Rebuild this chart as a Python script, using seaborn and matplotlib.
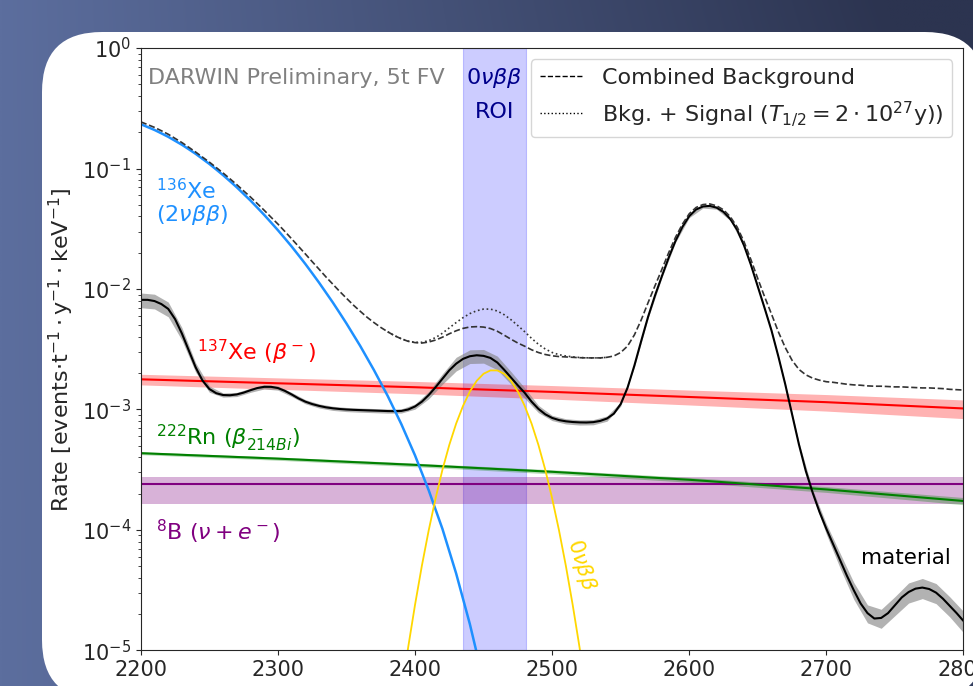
import numpy as np
import seaborn as sns
import matplotlib.pyplot as plt
from matplotlib.patches import FancyBboxPatch
from matplotlib.lines import Line2D


# energy grid of the spectra [keV], 5 keV steps
energy = np.arange(2200, 2801, 5)

# detector materials (214Bi / 208Tl gamma lines), log10 of the rate
material_log10 = np.array([
    -2.09, -2.09, -2.10, -2.125, -2.165, -2.25, -2.37, -2.51, -2.65, -2.76,
    -2.83, -2.865, -2.88, -2.882, -2.875, -2.86, -2.84, -2.822, -2.812, -2.812,
    -2.822, -2.845, -2.875, -2.908, -2.935, -2.955, -2.97, -2.982, -2.99, -2.996,
    -3.0, -3.003, -3.005, -3.007, -3.009, -3.011, -3.013, -3.014, -3.012, -3.0,
    -2.975, -2.935, -2.88, -2.815, -2.745, -2.675, -2.62, -2.58, -2.558, -2.55,
    -2.555, -2.572, -2.61, -2.67, -2.735, -2.80, -2.862, -2.935, -2.995, -3.04,
    -3.07, -3.088, -3.098, -3.104, -3.107, -3.108, -3.105, -3.095, -3.075, -3.035,
    -2.955, -2.82, -2.635, -2.43, -2.23, -2.055, -1.895, -1.74, -1.60, -1.485,
    -1.395, -1.34, -1.315, -1.31, -1.325, -1.36, -1.42, -1.51, -1.64, -1.80,
    -1.98, -2.16, -2.345, -2.56, -2.79, -3.04, -3.29, -3.51, -3.69, -3.85,
    -3.99, -4.12, -4.25, -4.38, -4.50, -4.61, -4.69, -4.735, -4.73, -4.69,
    -4.625, -4.56, -4.515, -4.487, -4.478, -4.49, -4.52, -4.57, -4.63, -4.69,
    -4.755])
# relative uncertainty of the material curve, every 10 keV
material_err = np.array([
    .14, .14, .14, .12, .09, .06, .04, .04, .04, .04,
    .04, .04, .04, .04, .04, .04, .04, .04, .04, .04,
    .05, .07, .10, .13, .13, .13, .13, .12, .10, .07,
    .05, .05, .05, .05, .05, .04, .03, .03, .03, .03,
    .03, .03, .03, .03, .03, .03, .03, .03, .04, .06,
    .10, .14, .16, .17, .18, .18, .19, .19, .19, .19,
    .20])

# combined background (dashed)
combined = np.array([
    0.2439, 0.2314, 0.2193, 0.2058, 0.1925, 0.1778, 0.1641, 0.1500, 0.1370, 0.1243,
    0.1130, 0.1019, 0.0918, 0.0822, 0.0735, 0.0652, 0.0580, 0.0511, 0.0450, 0.0394,
    0.0346, 0.0301, 0.0261, 0.0226, 0.01955, 0.01687, 0.0146, 0.01261, 0.01098, 0.00956,
    0.00838, 0.00736, 0.00654, 0.00583, 0.00527, 0.0048, 0.00442, 0.0041, 0.00386, 0.00368,
    0.00359, 0.00356, 0.00363, 0.00377, 0.00398, 0.00425, 0.0045, 0.00471, 0.00484, 0.00487,
    0.00483, 0.0047, 0.00446, 0.00414, 0.00383, 0.00356, 0.00335, 0.00313, 0.00297, 0.00286,
    0.00279, 0.00275, 0.00273, 0.00271, 0.00269, 0.00268, 0.00268, 0.00268, 0.00271, 0.00278,
    0.00297, 0.00336, 0.00416, 0.00555, 0.00771, 0.01062, 0.01451, 0.0200, 0.0269, 0.0345,
    0.0421, 0.0475, 0.0502, 0.0508, 0.0490, 0.0454, 0.0397, 0.0326, 0.0246, 0.0175,
    0.01219, 0.0086, 0.00619, 0.00441, 0.00327, 0.00256, 0.00215, 0.00194, 0.00182, 0.00175,
    0.0017, 0.00168, 0.00165, 0.00162, 0.0016, 0.00159, 0.00157, 0.00156, 0.00156, 0.00155,
    0.00154, 0.00154, 0.00153, 0.00152, 0.00151, 0.00151, 0.0015, 0.00149, 0.00147, 0.00146,
    0.00145])

# 136Xe 2vbb, 2200-2450 keV, log10 of the rate
energy_xe136 = np.arange(2200, 2451, 5)
xe136_log10 = np.array([
    -0.632, -0.656, -0.680, -0.708, -0.737, -0.770, -0.803, -0.840, -0.878, -0.920,
    -0.962, -1.008, -1.055, -1.105, -1.156, -1.211, -1.266, -1.325, -1.385, -1.448,
    -1.512, -1.579, -1.647, -1.719, -1.792, -1.869, -1.947, -2.029, -2.111, -2.198,
    -2.286, -2.379, -2.472, -2.572, -2.672, -2.779, -2.886, -3.003, -3.121, -3.251,
    -3.381, -3.526, -3.671, -3.831, -3.991, -4.176, -4.361, -4.571, -4.781, -5.02,
    -5.261])

# 0vbb signal for T1/2 = 2e27 y, 2390-2525 keV
energy_sig = np.arange(2390, 2526, 5)
signal = np.array([
    4.4e-6, 1.06e-5, 2.39e-5, 5.05e-5, 9.95e-5, 1.83e-4, 3.16e-4, 5.08e-4, 7.64e-4, 1.07e-3,
    1.41e-3, 1.73e-3, 1.98e-3, 2.11e-3, 2.11e-3, 1.98e-3, 1.73e-3, 1.41e-3, 1.07e-3, 7.64e-4,
    5.08e-4, 3.16e-4, 1.83e-4, 9.95e-5, 5.05e-5, 2.39e-5, 1.06e-5, 4.4e-6])

# flat-ish intrinsic backgrounds
energy_flat = [2200, 2300, 2400, 2500, 2600, 2700, 2800]
xe137 = np.array([1.78e-3, 1.65e-3, 1.53e-3, 1.40e-3, 1.27e-3, 1.15e-3, 1.02e-3])
xe137_err = 1.8e-4
rn222 = np.array([4.34e-4, 3.91e-4, 3.47e-4, 3.04e-4, 2.61e-4, 2.17e-4, 1.74e-4])
rn222_err = 1.2e-5
b8 = np.array([2.4e-4] * 7)
b8_lo, b8_hi = 1.64e-4, 2.76e-4

roi = (2435, 2481)

material = 10 ** material_log10
xe136 = 10 ** xe136_log10

# background + signal: signal sits on combined points 2390..2525
dotted = combined.copy()
dotted[38:66] += signal


sns.set_style('ticks')
plt.rcParams['font.family'] = ['DejaVu Sans']
plt.rcParams['mathtext.fontset'] = 'dejavusans'

fig = plt.figure(figsize=(9.73, 6.86), dpi=100)

# slide background with white rounded card
bg = fig.add_axes([0, 0, 1, 1])
tx = np.linspace(0, 1, 300)[None, :]
ty = np.linspace(0, 1, 200)[:, None]
mix = np.clip(0.8 * tx + 0.3 * (1 - ty) * tx, 0, 1)[..., None]
c_left = np.array([92, 110, 158]) / 255
c_right = np.array([44, 52, 80]) / 255
bg.imshow(c_left * (1 - mix) + c_right * mix, extent=(0, 973, 686, 0),
          aspect='auto', interpolation='bilinear')
bg.add_patch(FancyBboxPatch((42, 32), 943, 668, boxstyle='round,pad=0,rounding_size=60',
                            fc='white', ec='none'))
bg.set_xlim(0, 973)
bg.set_ylim(686, 0)
bg.axis('off')

ax = fig.add_axes([0.1447, 0.0518, 0.8455, 0.8782])
ax.set_facecolor('white')
ax.set_yscale('log')

ax.axvspan(*roi, color='blue', alpha=0.2, lw=0.8, zorder=0.5)

ax.fill_between(energy_flat, b8_lo, b8_hi, color='purple', alpha=0.3, lw=0)
sns.lineplot(x=energy_flat, y=b8, ax=ax, color='purple', lw=1.5)

ax.fill_between(energy_flat, xe137 - xe137_err, xe137 + xe137_err, color='red', alpha=0.3, lw=0)
sns.lineplot(x=energy_flat, y=xe137, ax=ax, color='red', lw=1.5)

ax.fill_between(energy_flat, rn222 - rn222_err, rn222 + rn222_err, color='green', alpha=0.3, lw=0)
sns.lineplot(x=energy_flat, y=rn222, ax=ax, color='green', lw=1.5)

mat10 = material[::2]
ax.fill_between(energy[::2], mat10 * (1 - material_err), mat10 * (1 + material_err),
                color='gray', alpha=0.6, lw=0)
sns.lineplot(x=energy, y=material, ax=ax, color='black', lw=1.5)

sns.lineplot(x=energy_xe136, y=xe136, ax=ax, color='dodgerblue', lw=1.8)
sns.lineplot(x=energy_sig, y=signal, ax=ax, color='gold', lw=1.3)

sns.lineplot(x=energy[36:69], y=dotted[36:69], ax=ax, color='#333333', lw=1.2, linestyle=':')
sns.lineplot(x=energy, y=combined, ax=ax, color='#333333', lw=1.2, linestyle='--')

ax.set_xlim(2200, 2800)
ax.set_ylim(1e-5, 1)
ax.set_xticks(range(2200, 2801, 100))
ax.tick_params(labelsize=15)
ax.set_xlabel('Energy [keV]', fontsize=16)
ax.set_ylabel(r'Rate [events$\cdot$t$^{-1}\cdot$y$^{-1}\cdot$keV$^{-1}$]', fontsize=16)

fs = 16
ax.text(2205, 10**-0.25, 'DARWIN Preliminary, 5t FV', color='gray', fontsize=fs, va='center')
ax.text(2458, 10**-0.25, r'$0\nu\beta\beta$', color='darkblue', fontsize=fs, ha='center', va='center')
ax.text(2458, 10**-0.53, 'ROI', color='darkblue', fontsize=fs, ha='center', va='center')
ax.text(2211, 10**-1.18, r'$^{136}$Xe', color='dodgerblue', fontsize=fs, va='center')
ax.text(2211, 10**-1.39, r'$(2\nu\beta\beta)$', color='dodgerblue', fontsize=fs, va='center')
ax.text(2241, 10**-2.53, r'$^{137}$Xe $(\beta^-)$', color='red', fontsize=fs, va='center')
ax.text(2211, 10**-3.24, r'$^{222}$Rn $(\beta^-_{214Bi})$', color='green', fontsize=fs, va='center')
ax.text(2211, 10**-4.02, r'$^{8}$B $(\nu + e^-)$', color='purple', fontsize=fs, va='center')
ax.text(2725, 10**-4.23, 'material', color='black', fontsize=15.5, va='center')
ax.text(2521, 10**-4.29, r'$0\nu\beta\beta$', color='gold', fontsize=15, rotation=-73,
        ha='center', va='center')

handles = [Line2D([], [], color='k', ls='--', lw=1),
           Line2D([], [], color='k', ls=':', lw=1)]
labels = ['Combined Background', r'Bkg. + Signal ($T_{1/2} = 2\cdot 10^{27}$y))']
ax.legend(handles, labels, loc='upper right', fontsize=fs)

fig.savefig('out.png', dpi=100)
